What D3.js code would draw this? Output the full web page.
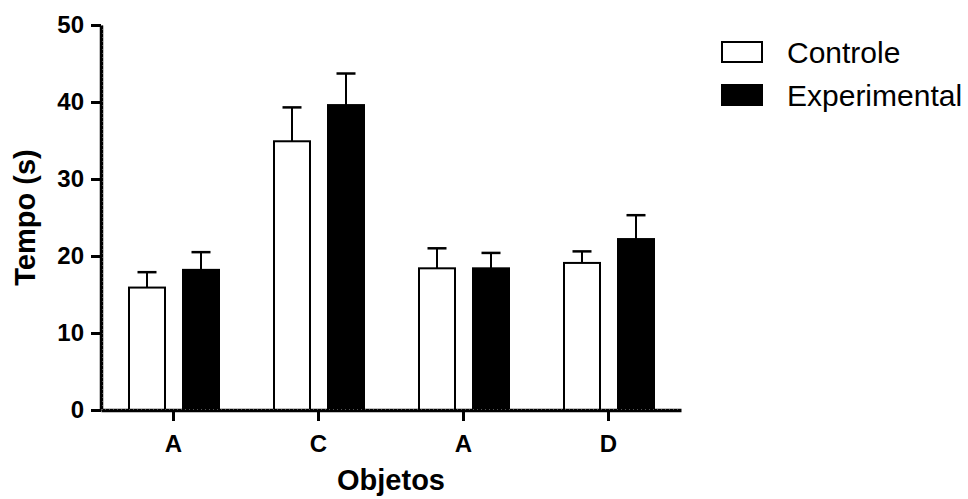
<!DOCTYPE html>
<html>
<head>
<meta charset="utf-8">
<script src="https://cdn.jsdelivr.net/npm/d3@7"></script>
<style>
  body { margin: 0; background: #fff; }
  text { font-family: "Liberation Sans", Arial, sans-serif; }
</style>
</head>
<body>
<svg width="968" height="499"></svg>
<script>
// data
var categories = ["A", "C", "A", "D"];
var series = ["Controle", "Experimental"];
var controleMean = [15.9, 34.9, 18.4, 19.1];
var controleSem = [2.0, 4.4, 2.6, 1.5];
var experimentalMean = [18.2, 39.6, 18.4, 22.2];
var experimentalSem = [2.3, 4.1, 2.0, 3.1];
var yTicks = [0, 10, 20, 30, 40, 50];

var fills = ["#fff", "#000"];
var means = [controleMean, experimentalMean];
var sems = [controleSem, experimentalSem];

var svg = d3.select("svg");
var margin = {top: 25, left: 101, right: 287, bottom: 89};
var width = 968 - margin.left - margin.right,
    height = 499 - margin.top - margin.bottom;

var g = svg.append("g")
    .attr("transform", "translate(" + margin.left + "," + margin.top + ")");

var x0 = d3.scaleBand().domain(d3.range(categories.length)).range([0, width]).padding(0);
var x1 = d3.scaleBand().domain(d3.range(series.length)).range([28, 118]).paddingInner(1 / 3);
var y = d3.scaleLinear().domain([0, 50]).range([height, 0]);

// bars
var groups = g.selectAll(".grp")
    .data(categories)
    .enter().append("g")
    .attr("transform", function (d, i) { return "translate(" + x0(i) + ",0)"; });

groups.each(function (c, i) {
    var gg = d3.select(this);
    series.forEach(function (s, j) {
        var m = means[j][i], e = sems[j][i];
        var cx = x1(j) + x1.bandwidth() / 2;
        gg.append("line")
            .attr("x1", cx).attr("x2", cx)
            .attr("y1", y(m)).attr("y2", y(m + e))
            .attr("stroke", "#000").attr("stroke-width", 2);
        gg.append("line")
            .attr("x1", cx - 9.5).attr("x2", cx + 9.5)
            .attr("y1", y(m + e)).attr("y2", y(m + e))
            .attr("stroke", "#000").attr("stroke-width", 2.5);
        gg.append("rect")
            .attr("x", x1(j))
            .attr("y", y(m))
            .attr("width", x1.bandwidth())
            .attr("height", y(0) - y(m))
            .attr("fill", fills[j])
            .attr("stroke", "#000")
            .attr("stroke-width", 2);
    });
});

// axes
var yAxis = g.append("g")
    .call(d3.axisLeft(y).tickValues(yTicks).tickSize(10).tickSizeOuter(0).tickPadding(7));
var xAxis = g.append("g")
    .attr("transform", "translate(0," + height + ")")
    .call(d3.axisBottom(x0).tickSize(11).tickSizeOuter(0).tickPadding(8)
        .tickFormat(function (i) { return categories[i]; }));

[yAxis, xAxis].forEach(function (a) {
    a.select(".domain").attr("stroke", "#000").attr("stroke-width", 3.5);
    a.selectAll(".tick line").attr("stroke", "#000").attr("stroke-width", 3);
    a.selectAll(".tick text")
        .attr("fill", "#000")
        .style("font-size", "24px")
        .style("font-weight", "bold");
});
xAxis.selectAll(".tick text").attr("dy", "0.95em");

// faint ruler-like texture along the axis lines
g.append("line")
    .attr("x1", 1.5).attr("x2", 1.5).attr("y1", 0).attr("y2", height)
    .attr("stroke", "#555").attr("stroke-width", 1)
    .attr("stroke-dasharray", "1 3");
g.append("line")
    .attr("x1", 0).attr("x2", width).attr("y1", height - 0.5).attr("y2", height - 0.5)
    .attr("stroke", "#555").attr("stroke-width", 1)
    .attr("stroke-dasharray", "1 3");

// axis titles
svg.append("text")
    .attr("transform", "translate(35," + (margin.top + height / 2) + ") rotate(-90)")
    .attr("text-anchor", "middle")
    .style("font-size", "29px")
    .style("font-weight", "bold")
    .text("Tempo (s)");

svg.append("text")
    .attr("x", margin.left + width / 2)
    .attr("y", 490)
    .attr("text-anchor", "middle")
    .style("font-size", "29px")
    .style("font-weight", "bold")
    .text("Objetos");

// legend
var legend = svg.append("g").attr("transform", "translate(721,41)");
series.forEach(function (s, j) {
    var lg = legend.append("g").attr("transform", "translate(0," + (j * 43) + ")");
    lg.append("rect")
        .attr("x", 1).attr("y", 1)
        .attr("width", 40).attr("height", 20)
        .attr("fill", fills[j])
        .attr("stroke", "#000").attr("stroke-width", 2);
    lg.append("text")
        .attr("x", 66).attr("y", 21.5)
        .style("font-size", "30px")
        .text(s);
});
</script>
</body>
</html>
